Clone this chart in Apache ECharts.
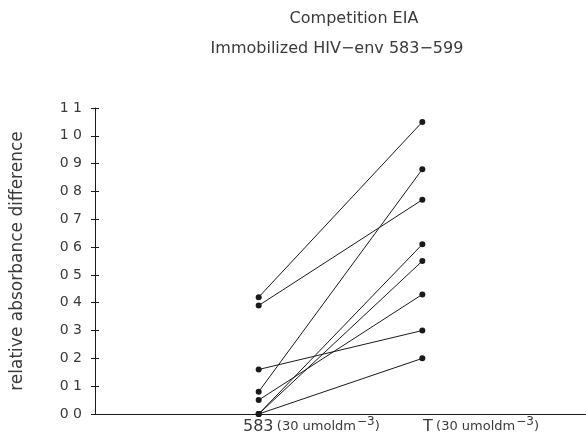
<!DOCTYPE html>
<html>
<head>
<meta charset="utf-8">
<title>Competition EIA</title>
<script src="https://cdn.jsdelivr.net/npm/echarts@6/dist/echarts.min.js"></script>
<style>
  body { margin: 0; background: #fff; }
</style>
</head>
<body>
<div id="main" style="width: 586px; height: 440px;"></div>
<script type="text/javascript">
  // values, one pair per line (583 -> T)
  const before = [0.42, 0.39, 0.16, 0.08, 0.05, 0.00, 0.00, 0.00];
  const after  = [1.05, 0.77, 0.30, 0.88, 0.43, 0.61, 0.55, 0.20];
  const xPos = [1, 2];
  // tick labels as printed (decimal points lost in the scan)
  const yLabels = ['0 0', '0 1', '0 2', '0 3', '0 4', '0 5', '0 6', '0 7', '0 8', '0 9', '1 0', '1 1'];

  const ink = '#1a1a1a';
  const txt = '#3a3a3a';
  const font = 'DejaVu Sans';

  var chart = echarts.init(document.getElementById('main'), null, {renderer: 'canvas'});

  let series = [];
  for (let i = 0; i < before.length; i++) {
    series.push({
      type: 'line',
      data: [[xPos[0], before[i]], [xPos[1], after[i]]],
      symbol: 'circle',
      symbolSize: 6,
      itemStyle: { color: ink },
      lineStyle: { color: ink, width: 1 },
      silent: true
    });
  }

  const labelRich = {
    a: { fontFamily: font, fontSize: 16 },
    b: { fontFamily: font, fontSize: 13 },
    s: { fontFamily: font, fontSize: 12, padding: [0, 0, 9, 1] }
  };

  var option = {
    animation: false,
    title: [
      { text: 'Competition EIA', left: 349, top: 6, textAlign: 'center',
        textStyle: { fontFamily: font, fontSize: 16, fontWeight: 'normal', color: txt } },
      { text: 'Immobilized HIV\u2212env 583\u2212599', left: 332, top: 36, textAlign: 'center',
        textStyle: { fontFamily: font, fontSize: 16, fontWeight: 'normal', color: txt } }
    ],
    grid: { left: 95, right: 0, top: 108, bottom: 26, containLabel: false },
    xAxis: {
      type: 'value', min: 0, max: 3,
      axisLine: { lineStyle: { color: ink, width: 1 } },
      axisTick: { show: false },
      axisLabel: { show: false },
      splitLine: { show: false }
    },
    yAxis: [
      {
        type: 'value', min: 0, max: 1.1, interval: 0.1,
        name: 'relative absorbance difference',
        nameLocation: 'middle', nameGap: 69, nameRotate: 90,
        nameTextStyle: { fontFamily: font, fontSize: 17, color: txt },
        axisLine: { show: true, lineStyle: { color: ink, width: 1 } },
        axisTick: { show: true, length: 4, lineStyle: { color: ink } },
        axisLabel: {
          margin: 13, fontFamily: font, fontSize: 14, color: txt,
          formatter: (v) => yLabels[Math.round(v * 10)]
        },
        splitLine: { show: false }
      },
      {
        // inner half of the crossing ticks
        type: 'value', min: 0, max: 1.1, interval: 0.1, position: 'left',
        axisLine: { show: false },
        axisTick: { show: true, inside: true, length: 4, lineStyle: { color: ink } },
        axisLabel: { show: false },
        splitLine: { show: false }
      }
    ],
    graphic: [
      {
        type: 'text', left: 243, top: 416,
        style: { text: '{a|583} {b|(30 umoldm}{s|\u22123}{b|)}', fill: txt, rich: labelRich }
      },
      {
        type: 'text', left: 423, top: 416,
        style: { text: '{a|T} {b|(30 umoldm}{s|\u22123}{b|)}', fill: txt, rich: labelRich }
      }
    ],
    series: series
  };
  chart.setOption(option);
</script>
</body>
</html>
